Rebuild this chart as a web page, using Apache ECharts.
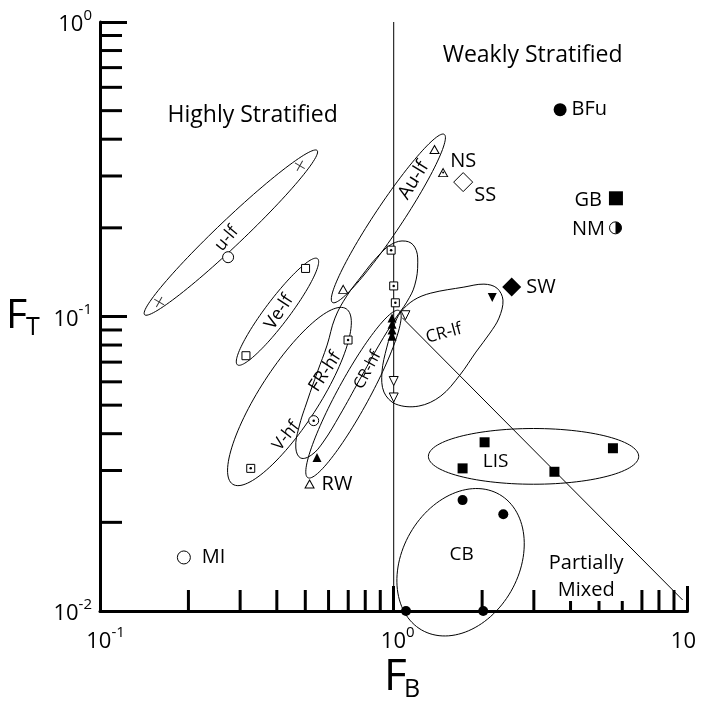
<!DOCTYPE html>
<html><head><meta charset="utf-8">
<script src="https://cdn.jsdelivr.net/npm/echarts@6/dist/echarts.min.js"></script>
<style>html,body{margin:0;padding:0;background:#fff}#c{width:703px;height:707px}</style>
</head><body><div id="c"></div>
<script>
// ================= DATA =================
// axis ticks
const xTickValues = [0.1, 1, 10];
const xTickExp = ['-1', '0', ''];
const yTickValues = [0.01, 0.1, 1];
const yTickExp = ['-2', '-1', '0'];
const xMinorTicks = [0.2,0.3,0.4,0.5,0.6,0.7,0.8,0.9,2,3,4,5,6,7,8,9];
const yMinorTicks = [0.02,0.03,0.04,0.05,0.06,0.07,0.08,0.09,0.2,0.3,0.4,0.5,0.6,0.7,0.8,0.9];

// u-lf: crosses and open circle
const uLfCrossFB = [0.159, 0.479];
const uLfCrossFT = [0.112, 0.325];
const uLfCircleFB = [0.273];
const uLfCircleFT = [0.159];
// Ve-lf: open squares
const veLfFB = [0.314, 0.501];
const veLfFT = [0.0736, 0.1456];
// Au-lf: open triangles
const auLfFB = [0.673, 1.377];
const auLfFT = [0.1236, 0.369];
// V-hf / FR-hf: dotted squares
const dotSquareFB = [0.326, 0.699, 0.98, 1.0, 1.013];
const dotSquareFT = [0.0305, 0.0832, 0.168, 0.127, 0.1113];
// dotted circle
const dotCircleFB = [0.534];
const dotCircleFT = [0.0443];
// CR-hf: filled triangles
const crHfFB = [0.548, 0.987, 0.987, 0.987, 0.987];
const crHfFT = [0.0332, 0.0988, 0.0942, 0.0899, 0.0857];
// CR-lf: open and filled down-triangles
const crLfOpenFB = [1.0, 1.0, 1.096];
const crLfOpenFT = [0.0604, 0.0531, 0.101];
const crLfFilledFB = [2.165];
const crLfFilledFT = [0.116];
// LIS: filled squares
const lisFB = [1.716, 2.039, 3.525, 5.577];
const lisFT = [0.0305, 0.0374, 0.0297, 0.0357];
// CB: filled circles
const cbFB = [1.101, 1.716, 2.017, 2.361];
const cbFT = [0.0100, 0.0238, 0.0100, 0.0213];
// single sites
const siteNames = ['NS', 'SS', 'SW', 'BFu', 'GB', 'NM', 'RW', 'MI'];
const siteFB = [1.473, 1.724, 2.522, 3.686, 5.71, 5.69, 0.517, 0.193];
const siteFT = [0.308, 0.286, 0.126, 0.504, 0.252, 0.200, 0.027, 0.0152];

// boundary lines
const splitLineFB = [1, 1];
const splitLineFT = [0.01, 1];
const mixLineFB = [1.07, 9.63];
const mixLineFT = [0.099, 0.0109];

// group ellipses (centre, semi-axes in decades, tilt)
const ellipseNames = ['u-lf', 'Ve-lf', 'Au-lf', 'V-hf', 'CR-hf', 'LIS', 'CB'];
const ellipseCenterFB = [0.279, 0.402, 0.959, 0.4416, 0.7295, 2.993, 1.689];
const ellipseCenterFT = [0.1927, 0.1038, 0.2153, 0.0535, 0.0545, 0.0335, 0.01464];
const ellipseSemiMajor = [0.405, 0.226, 0.343, 0.355, 0.3235, 0.358, 0.2655];
const ellipseSemiMinor = [0.044, 0.041, 0.047, 0.1, 0.054, 0.0946, 0.198];
const ellipseTilt = [43.5, 52.9, 56.3, 57, 61.3, 0, 60];

// free-form outlines, log10(FB), log10(FT)
const frHfOutlineLogFB = [-0.0067,0.041,0.0717,0.0819,0.0717,0.0444,0.0068,-0.05,-0.1167,-0.1833,-0.24,-0.28,-0.3167,-0.3333,-0.3233,-0.2933,-0.26,-0.2267,-0.2,-0.16,-0.1067,-0.0567];
const frHfOutlineLogFT = [-0.7543,-0.7441,-0.7645,-0.8154,-0.8934,-0.9511,-1.0054,-1.097,-1.2158,-1.3346,-1.4262,-1.4703,-1.4805,-1.4466,-1.3787,-1.2837,-1.1887,-1.097,-1.0054,-0.9307,-0.8595,-0.7984];
const crLfOutlineLogFB = [0.0239,0.0683,0.1263,0.2389,0.3072,0.3515,0.372,0.3584,0.3276,0.2799,0.2253,0.1604,0.0853,0.0068,-0.0333,-0.04,-0.0233,0];
const crLfOutlineLogFT = [-0.985,-0.9443,-0.9206,-0.9002,-0.8901,-0.9036,-0.9443,-1.0054,-1.0563,-1.1208,-1.1989,-1.27,-1.3042,-1.2974,-1.2566,-1.1888,-1.1039,-1.0326];

// text annotations
const groupLabelText = ['u-lf', 'Ve-lf', 'Au-lf', 'FR-hf', 'CR-hf', 'V-hf', 'CR-lf', 'LIS', 'CB'];
const groupLabelFB = [0.27, 0.407, 1.17, 0.584, 0.815, 0.43, 1.482, 2.224, 1.702];
const groupLabelFT = [0.184, 0.1035, 0.290, 0.0649, 0.0658, 0.0393, 0.0876, 0.0321, 0.0155];
const regionText = ['Highly Stratified', 'Weakly Stratified', 'Partially\nMixed'];
const regionFB = [0.331, 2.97, 4.52];
const regionFT = [0.4826, 0.77, 0.01305];

// ================= STYLE =================
const FONT = '"Open Sans", "Noto Sans", sans-serif';
const groupLabelRotate = [50, 57, 58, 57, 62, 52, 15, 0, 0];
const groupLabelSize = [17.5, 18, 19, 18, 16, 17, 17, 19, 19];
const regionFontSize = [23, 23, 20];
const xShortMinor = [4, 5, 6];

const pairs = (a, b) => a.map((v, i) => [v, b[i]]);
const BLK = '#000';

function supLabel(exp, padName) {
  return (padName ? '{' + padName + '|}' : '') + '{b|10}' + (exp ? '{s|' + exp + '}' : '');
}
const richLabel = {
  b: { fontSize: 22, fontFamily: FONT, color: BLK, padding: [6, 0, 0, 0], verticalAlign: 'bottom' },
  s: { fontSize: 15, fontFamily: FONT, color: BLK, verticalAlign: 'top' },
  p1: { width: 11 }, p0: { width: 8 }, q: { width: 8 }
};

function openSym(symbol, size, data, extra) {
  return Object.assign({
    type: 'scatter', data: data, symbol: symbol, symbolSize: size, z: 10,
    itemStyle: { color: '#fff', borderColor: BLK, borderWidth: 1, opacity: 1 },
    emphasis: { disabled: true }
  }, extra || {});
}
function fillSym(symbol, size, data, extra) {
  return Object.assign({
    type: 'scatter', data: data, symbol: symbol, symbolSize: size, z: 10,
    itemStyle: { color: BLK, opacity: 1 },
    emphasis: { disabled: true }
  }, extra || {});
}
function site(name) { const i = siteNames.indexOf(name); return [[siteFB[i], siteFT[i]]]; }
function siteLabel(name, position, distance, offset) {
  return { show: true, formatter: name, position: position, distance: distance, offset: offset || [0, 0],
    fontFamily: FONT, fontSize: 20, color: BLK };
}
function outlineSeries(logFB, logFT, smooth) {
  return {
    type: 'custom', coordinateSystem: 'cartesian2d', clip: false, silent: true, z: 4,
    data: logFB.map((v, i) => [Math.pow(10, v), Math.pow(10, logFT[i])]),
    renderItem: function (params, api) {
      if (params.dataIndex !== 0) return null;
      const pts = logFB.map((v, i) => api.coord([Math.pow(10, v), Math.pow(10, logFT[i])]));
      return { type: 'polygon', shape: { points: pts, smooth: smooth }, style: { fill: 'none', stroke: BLK, lineWidth: 1 } };
    }
  };
}

const series = [];
// boundary lines
series.push({ type: 'line', data: pairs(splitLineFB, splitLineFT), symbol: 'none', z: 3,
  lineStyle: { color: BLK, width: 1 }, silent: true });
series.push({ type: 'line', data: pairs(mixLineFB, mixLineFT), symbol: 'none', z: 3,
  lineStyle: { color: BLK, width: 1 }, silent: true });

// ellipses
series.push({
  type: 'custom', coordinateSystem: 'cartesian2d', clip: false, silent: true, z: 4,
  data: pairs(ellipseCenterFB, ellipseCenterFT),
  renderItem: function (params, api) {
    const i = params.dataIndex;
    const cx = Math.log10(api.value(0)), cy = Math.log10(api.value(1));
    const a = ellipseSemiMajor[i], b = ellipseSemiMinor[i], th = ellipseTilt[i] * Math.PI / 180;
    const pts = [];
    for (let k = 0; k < 120; k++) {
      const t = k / 120 * 2 * Math.PI;
      const lx = cx + a * Math.cos(t) * Math.cos(th) - b * Math.sin(t) * Math.sin(th);
      const ly = cy + a * Math.cos(t) * Math.sin(th) + b * Math.sin(t) * Math.cos(th);
      pts.push(api.coord([Math.pow(10, lx), Math.pow(10, ly)]));
    }
    return { type: 'polygon', shape: { points: pts }, style: { fill: 'none', stroke: BLK, lineWidth: 1 } };
  }
});
series.push(outlineSeries(frHfOutlineLogFB, frHfOutlineLogFT, 0.4));
series.push(outlineSeries(crLfOutlineLogFB, crLfOutlineLogFT, 0.35));

// minor ticks
series.push({
  type: 'custom', coordinateSystem: 'cartesian2d', clip: false, silent: true, z: 6,
  data: xMinorTicks.map(v => [v, 0.01]),
  renderItem: function (params, api) {
    const v = api.value(0);
    const p = api.coord([v, 0.01]);
    const len = xShortMinor.some(s => Math.abs(s - v) < 1e-6) ? 10 : 21;
    return { type: 'line', shape: { x1: p[0], y1: p[1], x2: p[0], y2: p[1] - len }, style: { stroke: BLK, lineWidth: 3 } };
  }
});
series.push({
  type: 'custom', coordinateSystem: 'cartesian2d', clip: false, silent: true, z: 6,
  data: yMinorTicks.map(v => [0.1, v]),
  renderItem: function (params, api) {
    const p = api.coord([0.1, api.value(1)]);
    return { type: 'line', shape: { x1: p[0], y1: p[1], x2: p[0] + 22, y2: p[1] }, style: { stroke: BLK, lineWidth: 3 } };
  }
});

// markers
const crossPath = 'path://M0,0L10,10M10,0L0,10';
series.push({ type: 'scatter', data: pairs(uLfCrossFB, uLfCrossFT), symbol: crossPath, symbolSize: 8, symbolRotate: 15, z: 10,
  itemStyle: { color: 'rgba(0,0,0,0)', borderColor: BLK, borderWidth: 1 }, emphasis: { disabled: true } });
series.push(openSym('circle', 11, pairs(uLfCircleFB, uLfCircleFT)));
series.push(openSym('rect', 8, pairs(veLfFB, veLfFT)));
series.push(openSym('triangle', [9, 8], pairs(auLfFB, auLfFT)));
series.push(openSym('rect', 8, pairs(dotSquareFB, dotSquareFT)));
series.push(openSym('circle', 10, pairs(dotCircleFB, dotCircleFT)));
series.push(fillSym('circle', 2.5, pairs(dotSquareFB, dotSquareFT).concat(pairs(dotCircleFB, dotCircleFT)), { z: 11 }));
series.push(fillSym('triangle', [9, 9], pairs(crHfFB, crHfFT)));
series.push(openSym('triangle', [9, 9], pairs(crLfOpenFB, crLfOpenFT), { symbolRotate: 180 }));
series.push(fillSym('triangle', [9, 9], pairs(crLfFilledFB, crLfFilledFT), { symbolRotate: 180 }));
series.push(fillSym('rect', 10, pairs(lisFB, lisFT)));
series.push(fillSym('circle', 10, pairs(cbFB, cbFT), { clip: false }));

// single sites
series.push(openSym('triangle', [9, 8], site('NS'), { label: siteLabel('NS', 'right', -1, [3, -11]) }));
series.push(fillSym('circle', 2, site('NS'), { z: 11 }));
series.push(openSym('diamond', 19, site('SS'), { label: siteLabel('SS', 'right', -3, [4, 13]) }));
series.push(fillSym('diamond', 19, site('SW'), { label: siteLabel('SW', 'right', 5) }));
series.push(fillSym('circle', 13, site('BFu'), { label: siteLabel('BFu', 'right', 5) }));
series.push(fillSym('rect', 14, site('GB'), { label: siteLabel('GB', 'left', 7, [0, 2]) }));
series.push(openSym('circle', 12, site('NM'), { label: siteLabel('NM', 'left', 4, [0, 1]) }));
series.push(fillSym('path://M0,0A10,10 0 0,1 0,20Z', [6, 12], site('NM'), { symbolOffset: [3, 0], z: 11 }));
series.push(openSym('triangle', [9, 8], site('RW'), { label: siteLabel('RW', 'right', 7) }));
series.push(openSym('circle', 13, site('MI'), { label: siteLabel('MI', 'right', 11) }));

// group labels
series.push({
  type: 'custom', coordinateSystem: 'cartesian2d', clip: false, silent: true, z: 12,
  data: pairs(groupLabelFB, groupLabelFT),
  renderItem: function (params, api) {
    const i = params.dataIndex;
    const p = api.coord([api.value(0), api.value(1)]);
    return { type: 'text', x: p[0], y: p[1], rotation: groupLabelRotate[i] * Math.PI / 180,
      style: { text: groupLabelText[i], fontFamily: FONT, fontSize: groupLabelSize[i], fill: BLK, align: 'center', verticalAlign: 'middle' } };
  }
});
// region labels
series.push({
  type: 'custom', coordinateSystem: 'cartesian2d', clip: false, silent: true, z: 12,
  data: pairs(regionFB, regionFT),
  renderItem: function (params, api) {
    const i = params.dataIndex;
    const p = api.coord([api.value(0), api.value(1)]);
    return { type: 'text', x: p[0], y: p[1],
      style: { text: regionText[i], fontFamily: FONT, fontSize: regionFontSize[i], lineHeight: 27, fill: BLK, align: 'center', verticalAlign: 'middle' } };
  }
});

const chart = echarts.init(document.getElementById('c'));
chart.setOption({
  backgroundColor: '#fff',
  animation: false,
  grid: { left: 100, top: 22, width: 595, height: 589, containLabel: false },
  xAxis: {
    type: 'log', logBase: 10, min: 0.1, max: 10,
    axisLine: { show: true, lineStyle: { color: BLK, width: 3 } },
    axisTick: { show: true, inside: true, length: 25, lineStyle: { color: BLK, width: 3 } },
    splitLine: { show: false }, minorTick: { show: false },
    axisLabel: {
      show: true, margin: 14, showMinLabel: true, showMaxLabel: true,
      formatter: function (v) {
        const i = xTickValues.findIndex(t => Math.abs(Math.log10(t) - Math.log10(v)) < 1e-6);
        if (i < 0) return '';
        const e = xTickExp[i];
        if (!e) return '{b|10}{q|}';
        return supLabel(e, e.length > 1 ? 'p1' : 'p0');
      },
      rich: richLabel
    }
  },
  yAxis: {
    type: 'log', logBase: 10, min: 0.01, max: 1,
    axisLine: { show: true, lineStyle: { color: BLK, width: 3 } },
    axisTick: { show: true, inside: true, length: 27, lineStyle: { color: BLK, width: 3 } },
    splitLine: { show: false }, minorTick: { show: false },
    axisLabel: {
      show: true, margin: 8, showMinLabel: true, showMaxLabel: true,
      formatter: function (v) {
        const i = yTickValues.findIndex(t => Math.abs(Math.log10(t) - Math.log10(v)) < 1e-6);
        if (i < 0) return '';
        return supLabel(yTickExp[i]);
      },
      rich: richLabel
    }
  },
  graphic: [
    { type: 'text', left: 6, top: 296, style: { text: 'F', font: '41px ' + FONT, fill: BLK } },
    { type: 'text', left: 26, top: 315, style: { text: 'T', font: '25px ' + FONT, fill: BLK } },
    { type: 'text', left: 384, top: 655, style: { text: 'F', font: '44px ' + FONT, fill: BLK } },
    { type: 'text', left: 404, top: 677, style: { text: 'B', font: '25px ' + FONT, fill: BLK } }
  ],
  series: series
});
</script></body></html>
